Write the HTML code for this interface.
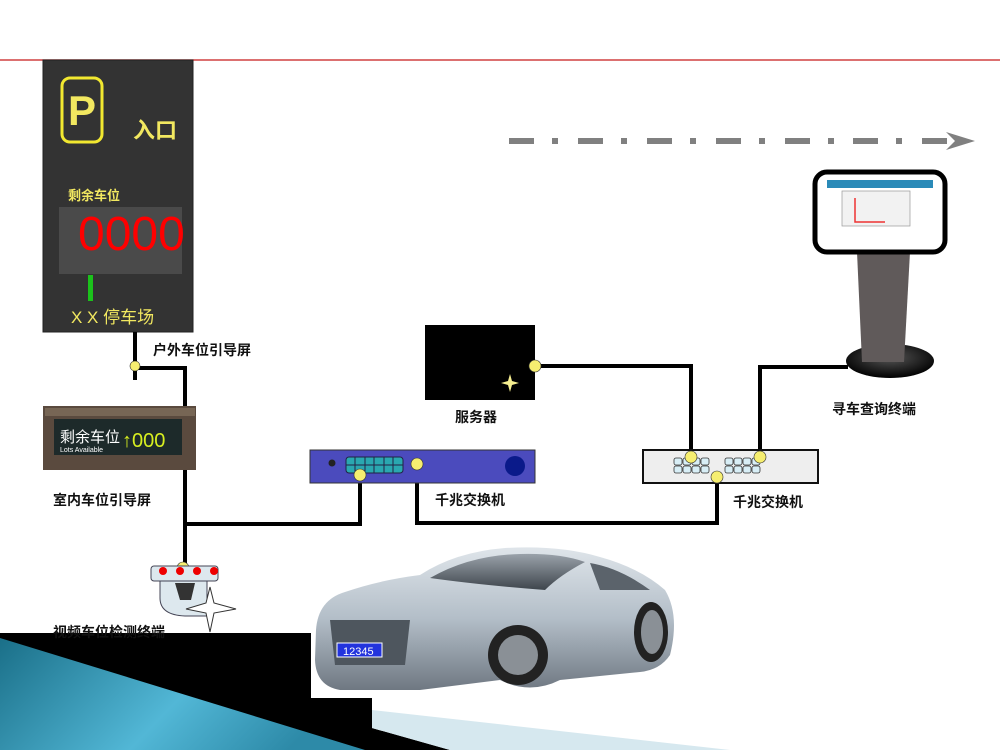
<!DOCTYPE html>
<html><head><meta charset="utf-8"><style>
body{margin:0;width:1000px;height:750px;overflow:hidden;background:#fff;position:relative;font-family:"Liberation Sans","Noto Sans CJK SC",sans-serif}
.l{position:absolute;font-size:14px;font-weight:bold;color:#111;white-space:nowrap}
</style></head><body>
<svg width="1000" height="750" style="position:absolute;left:0;top:0">
<defs>
<linearGradient id="teal" x1="0" y1="0" x2="1" y2="0.3"><stop offset="0" stop-color="#1a6f88"/><stop offset="0.6" stop-color="#52b7d6"/><stop offset="1" stop-color="#2d8aa8"/></linearGradient>
<linearGradient id="car" x1="0" y1="0" x2="0" y2="1"><stop offset="0" stop-color="#dfe5ea"/><stop offset="0.5" stop-color="#b3bec8"/><stop offset="1" stop-color="#6f7882"/></linearGradient>
<linearGradient id="glass" x1="0" y1="0" x2="0" y2="1"><stop offset="0" stop-color="#9aa2aa"/><stop offset="1" stop-color="#3e454c"/></linearGradient>
<radialGradient id="base" cx="0.5" cy="0.4" r="0.6"><stop offset="0" stop-color="#555"/><stop offset="1" stop-color="#000"/></radialGradient>
</defs>
<line x1="0" y1="60" x2="1000" y2="60" stroke="#d04040" stroke-width="1.5"/>
<g fill="#808080">
<rect x="509" y="138" width="25" height="6"/><rect x="552" y="138" width="6" height="6"/>
<rect x="578" y="138" width="25" height="6"/><rect x="621" y="138" width="6" height="6"/>
<rect x="647" y="138" width="25" height="6"/><rect x="690" y="138" width="6" height="6"/>
<rect x="716" y="138" width="25" height="6"/><rect x="759" y="138" width="6" height="6"/>
<rect x="785" y="138" width="25" height="6"/><rect x="828" y="138" width="6" height="6"/>
<rect x="853" y="138" width="25" height="6"/><rect x="896" y="138" width="6" height="6"/>
<rect x="922" y="138" width="25" height="6"/>
<path d="M946 132 L975 141 L946 150 L955 141 Z"/>
</g>
<rect x="43" y="60" width="150" height="272" fill="#333" stroke="#222"/>
<rect x="62" y="78" width="40" height="64" rx="8" fill="none" stroke="#f2e830" stroke-width="3"/>
<text x="82" y="125" font-size="42" fill="#f2e860" text-anchor="middle" font-family="Liberation Sans" font-weight="bold">P</text>
<rect x="59" y="207" width="123" height="67" fill="#4a4a4a"/>
<text x="78" y="250" font-size="48" fill="#f00" font-family="Liberation Sans">0000</text>
<rect x="88" y="275" width="5" height="26" fill="#1bc21b"/>
<g stroke="#000" stroke-width="4" fill="none">
<path d="M135 332 V380"/>
<path d="M135 368 H185 V406"/>
<path d="M185 470 V565"/>
<path d="M185 524 H360 V472"/>
<path d="M417 466 V523 H717 V478"/>
<path d="M535 366 H691 V456"/>
<path d="M760 456 V367 H848"/>
</g>
<rect x="43" y="406" width="153" height="64" fill="#5a4a3e"/>
<rect x="45" y="408" width="150" height="8" fill="#776655"/>
<rect x="54" y="419" width="128" height="36" fill="#1d2a2a"/>
<text x="60" y="442" font-size="15" fill="#fff" font-family="Liberation Sans,Noto Sans CJK SC,sans-serif">剩余车位</text>
<text x="60" y="452" font-size="7" fill="#fff" font-family="Liberation Sans">Lots Available</text>
<text x="122" y="447" font-size="20" fill="#d8ef20" font-family="Liberation Sans">↑000</text>
<rect x="310" y="450" width="225" height="33" fill="#4b4bbd" stroke="#333"/>
<circle cx="332" cy="463" r="3.5" fill="#222"/>
<rect x="346" y="457" width="57" height="16" rx="3" fill="#2aa8b0" stroke="#224"/>
<path d="M346 465 H403 M355 457 V473 M365 457 V473 M374 457 V473 M384 457 V473 M393 457 V473" stroke="#224" stroke-width="1"/>
<circle cx="515" cy="466" r="10" fill="#0a1a8a"/>
<rect x="425" y="325" width="110" height="75" fill="#000"/>
<path d="M510 374 L512 381 L519 383 L512 385 L510 392 L508 385 L501 383 L508 381 Z" fill="#f6ee90"/>
<rect x="643" y="450" width="175" height="33" fill="#eee" stroke="#111" stroke-width="2"/>
<g fill="#d8eef6" stroke="#333" stroke-width="0.8">
<rect x="674" y="458" width="8" height="7" rx="2"/><rect x="683" y="458" width="8" height="7" rx="2"/><rect x="692" y="458" width="8" height="7" rx="2"/><rect x="701" y="458" width="8" height="7" rx="2"/>
<rect x="674" y="466" width="8" height="7" rx="2"/><rect x="683" y="466" width="8" height="7" rx="2"/><rect x="692" y="466" width="8" height="7" rx="2"/><rect x="701" y="466" width="8" height="7" rx="2"/>
<rect x="725" y="458" width="8" height="7" rx="2"/><rect x="734" y="458" width="8" height="7" rx="2"/><rect x="743" y="458" width="8" height="7" rx="2"/><rect x="752" y="458" width="8" height="7" rx="2"/>
<rect x="725" y="466" width="8" height="7" rx="2"/><rect x="734" y="466" width="8" height="7" rx="2"/><rect x="743" y="466" width="8" height="7" rx="2"/><rect x="752" y="466" width="8" height="7" rx="2"/>
</g>
<g fill="#f6ee70" stroke="#333" stroke-width="0.6">
<circle cx="135" cy="366" r="5"/><circle cx="360" cy="475" r="6"/><circle cx="417" cy="464" r="6"/>
<circle cx="535" cy="366" r="6"/><circle cx="691" cy="457" r="6"/><circle cx="717" cy="477" r="6"/><circle cx="760" cy="457" r="6"/><circle cx="183" cy="568" r="6"/>
</g>
<rect x="151" y="566" width="67" height="15" rx="3" fill="#dde8ee" stroke="#445"/>
<path d="M160 581 V598 Q160 615 185 616 H207 V581 Z" fill="#dde8ee" stroke="#445"/>
<path d="M175 583 H195 L191 600 H180 Z" fill="#333"/>
<g fill="#e00"><circle cx="163" cy="571" r="4"/><circle cx="180" cy="571" r="4"/><circle cx="197" cy="571" r="4"/><circle cx="214" cy="571" r="4"/></g>
<path d="M210 587 L214 603 L236 609 L214 613 L210 632 L206 613 L186 609 L206 603 Z" fill="#fff" stroke="#333"/>
<ellipse cx="890" cy="361" rx="44" ry="17" fill="url(#base)"/>
<path d="M857 252 H910 L904 362 H862 Z" fill="#605a5a"/>
<rect x="815" y="172" width="130" height="80" rx="12" fill="#fff" stroke="#000" stroke-width="5"/>
<rect x="827" y="180" width="106" height="8" fill="#2a8ab8"/>
<rect x="842" y="191" width="68" height="35" fill="#f2f2f2" stroke="#999" stroke-width="0.7"/>
<path d="M855 198 V222 H885" stroke="#e33" stroke-width="1.5" fill="none"/>
<g>
<path d="M316 630 Q318 600 345 592 Q380 580 420 575 Q455 552 505 548 Q560 545 600 557 Q640 568 665 590 Q680 615 670 655 Q660 670 640 672 L560 680 Q530 695 500 680 L420 690 L340 690 Q316 686 315 660 Z" fill="url(#car)"/>
<path d="M430 578 Q470 555 520 554 Q560 553 585 562 Q560 575 545 590 Q480 585 430 578 Z" fill="url(#glass)"/>
<path d="M590 563 Q620 568 650 590 L600 590 Z" fill="#5b636b"/>
<path d="M330 620 H410 L405 665 H335 Z" fill="#4e565e"/>
<rect x="337" y="643" width="45" height="14" fill="#2233dd" stroke="#fff" stroke-width="1"/>
<text x="343" y="655" font-size="11" fill="#fff" font-family="Liberation Sans">12345</text>
<circle cx="518" cy="655" r="30" fill="#222"/><circle cx="518" cy="655" r="20" fill="#8a9096"/>
<ellipse cx="651" cy="632" rx="17" ry="30" fill="#222"/><ellipse cx="652" cy="632" rx="11" ry="22" fill="#8a9096"/>
</g>
<path d="M0 633 H311 V698 H372 V728 L450 750 H0 Z" fill="#000"/>
<path d="M372 710 L730 750 H450 L372 728 Z" fill="#d6e8ef"/>
<path d="M0 638 L365 750 H0 Z" fill="url(#teal)"/>
</svg>
<div class="l" style="left:133px;top:113px;font-size:22px;color:#f2e860">入口</div>
<div class="l" style="left:68px;top:185px;font-size:13px;color:#f2e860">剩余车位</div>
<div class="l" style="left:71px;top:303px;font-size:17px;color:#f2e860;font-weight:normal">X X 停车场</div>
<div class="l" style="left:153px;top:340px">户外车位引导屏</div>
<div class="l" style="left:53px;top:490px">室内车位引导屏</div>
<div class="l" style="left:53px;top:622px">视频车位检测终端</div>
<div class="l" style="left:455px;top:407px">服务器</div>
<div class="l" style="left:435px;top:490px">千兆交换机</div>
<div class="l" style="left:733px;top:492px">千兆交换机</div>
<div class="l" style="left:832px;top:399px">寻车查询终端</div>
</body></html>
